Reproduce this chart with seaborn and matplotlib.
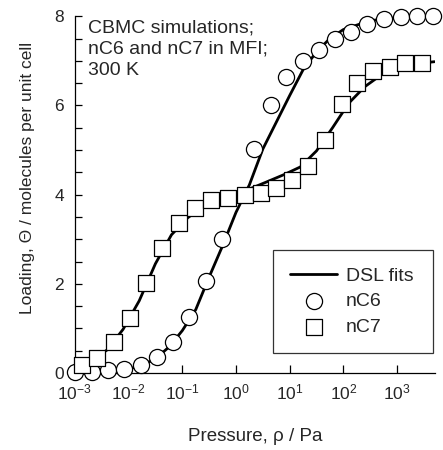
import pandas as pd
import seaborn as sns
import matplotlib.pyplot as plt
from matplotlib.ticker import LogLocator, MultipleLocator, NullLocator

# CBMC points, pressure in Pa, loading in molecules per unit cell
p_nc6 = [0.001, 0.0021, 0.0042, 0.0083, 0.017, 0.034, 0.066, 0.135, 0.275, 0.55,
         2.2, 4.5, 8.7, 17.5, 35, 69, 138, 280, 570, 1170, 2340, 4700]
q_nc6 = [0.02, 0.03, 0.07, 0.1, 0.19, 0.37, 0.69, 1.26, 2.06, 3.01,
         5.03, 6.02, 6.63, 6.99, 7.24, 7.48, 7.64, 7.82, 7.93, 7.99, 8.01, 8.01]

p_nc7 = [0.00135, 0.0026, 0.0054, 0.0105, 0.0214, 0.0427, 0.087, 0.174, 0.347, 0.71,
         1.45, 2.9, 5.5, 11.2, 21.9, 44.7, 93, 182, 363, 724, 1413, 2884]
q_nc7 = [0.19, 0.34, 0.69, 1.24, 2.01, 2.80, 3.36, 3.71, 3.87, 3.93,
         4.00, 4.03, 4.15, 4.32, 4.65, 5.23, 6.03, 6.50, 6.78, 6.87, 6.94, 6.94]

# DSL fit curves
p_fit6 = [0.001, 0.00316, 0.01, 0.0178, 0.0316, 0.0562, 0.1, 0.178, 0.316, 0.562, 1,
          1.78, 3.16, 5.62, 10, 17.8, 31.6, 56.2, 100, 316, 1000, 5000]
q_fit6 = [0.01, 0.03, 0.09, 0.17, 0.32, 0.58, 0.95, 1.42, 2.15, 2.85, 3.6,
          4.22, 5.02, 5.62, 6.22, 6.8, 7.2, 7.5, 7.7, 7.9, 7.97, 8.0]

p_fit7 = [0.0026, 0.004, 0.0079, 0.0158, 0.0316, 0.063, 0.126, 0.251, 0.501, 1,
          2, 4, 7.9, 15.8, 31.6, 63, 126, 251, 501, 1000, 2000, 5000]
q_fit7 = [0.36, 0.52, 0.98, 1.62, 2.45, 3.1, 3.48, 3.74, 3.9, 4.02,
          4.15, 4.3, 4.45, 4.62, 4.98, 5.5, 6.05, 6.42, 6.68, 6.85, 6.93, 6.98]

sns.set_style("ticks")
plt.rcParams['font.family'] = ['Liberation Sans', 'DejaVu Sans']
plt.rcParams['mathtext.fontset'] = 'custom'
plt.rcParams['mathtext.rm'] = 'Liberation Sans'
plt.rcParams['mathtext.it'] = 'Liberation Sans:italic'
plt.rcParams['font.size'] = 12

fig = plt.figure(figsize=(4.43, 4.5), dpi=100)
ax = fig.add_axes([0.169, 0.171, 0.813, 0.793])

fit6 = pd.DataFrame({'p': p_fit6, 'q': q_fit6})
fit7 = pd.DataFrame({'p': p_fit7, 'q': q_fit7})
sns.lineplot(data=fit6, x='p', y='q', ax=ax, color='black', lw=2.0, label='DSL fits',
             sort=False)
sns.lineplot(data=fit7, x='p', y='q', ax=ax, color='black', lw=2.0, sort=False)

sns.scatterplot(x=p_nc6, y=q_nc6, ax=ax, marker='o', s=135, facecolor='white',
                edgecolor='black', linewidth=0.9, zorder=3, label='nC6', clip_on=False)
sns.scatterplot(x=p_nc7, y=q_nc7, ax=ax, marker='s', s=120, facecolor='white',
                edgecolor='black', linewidth=0.9, zorder=3, label='nC7', clip_on=False)

ax.set_xscale('log')
ax.set_xlim(1e-3, 5.1e3)
ax.set_ylim(0, 8)
ax.xaxis.set_major_locator(LogLocator(base=10, numticks=10))
ax.xaxis.set_minor_locator(NullLocator())
ax.yaxis.set_major_locator(MultipleLocator(2))
ax.yaxis.set_minor_locator(MultipleLocator(0.5))

sns.despine(ax=ax)
for s in ['left', 'bottom']:
    ax.spines[s].set_linewidth(0.9)
    ax.spines[s].set_color('black')
ax.tick_params(axis='both', which='both', direction='in', width=0.9, labelsize=12.5,
               color='black')
ax.tick_params(axis='x', which='major', length=6, pad=7)
ax.tick_params(axis='y', which='both', length=5, pad=8)

ax.set_xlabel('Pressure, ρ / Pa', fontsize=13.5, labelpad=18)
ax.set_ylabel('Loading, Θ / molecules per unit cell', fontsize=12.5)
ax.yaxis.set_label_coords(-0.11, 0.546)

ax.text(0.036, 0.99, 'CBMC simulations;\nnC6 and nC7 in MFI;\n300 K',
        transform=ax.transAxes, ha='left', va='top', fontsize=14, linespacing=1.3)

leg = ax.legend(loc='upper left', bbox_to_anchor=(0.55, 0.345, 0.444, 0.0),
                mode='expand', frameon=True, fancybox=False, edgecolor='black',
                fontsize=14, borderpad=0.9, labelspacing=0.4, handlelength=2.4,
                handletextpad=0.45, borderaxespad=0)
leg.get_frame().set_linewidth(0.9)

fig.savefig('out.png', dpi=100)
